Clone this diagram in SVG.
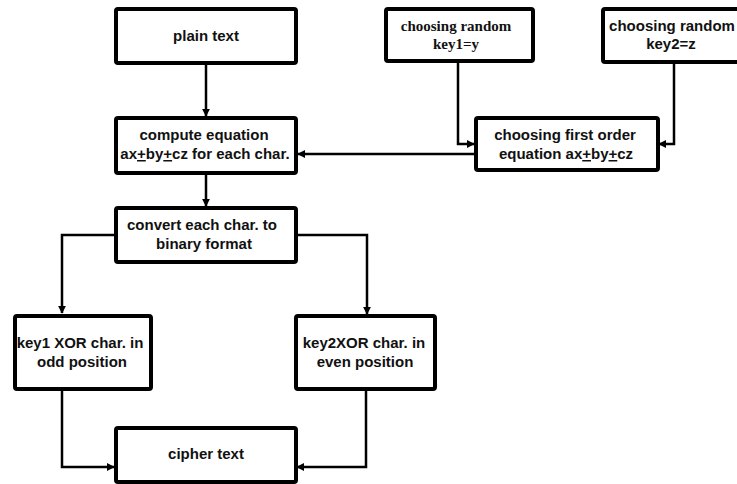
<svg xmlns="http://www.w3.org/2000/svg" width="737" height="484" viewBox="0 0 737 484">
<style>
.box{fill:#fff;stroke:#000;stroke-width:4;stroke-linejoin:round}
.t{font-family:"Liberation Sans",Arial,sans-serif;font-size:15px;font-weight:bold;fill:#111;text-anchor:middle}
.s{font-family:"Liberation Serif","Times New Roman",serif;font-size:15px;font-weight:bold;fill:#111;text-anchor:middle}
.c{fill:none;stroke:#000;stroke-width:2.5}
</style>
<defs>
<marker id="ah" viewBox="0 0 10 10" refX="9" refY="5" markerWidth="3.2" markerHeight="3.2" orient="auto" markerUnits="strokeWidth">
<path d="M0,0 L10,5 L0,10 z" fill="#000"/>
</marker>
</defs>
<rect width="737" height="484" fill="#fff"/>
<g id="connectors">
<path class="c" d="M206,63 V116" marker-end="url(#ah)"/>
<path class="c" d="M458,61 V144 H474" marker-end="url(#ah)"/>
<path class="c" d="M674,62 V144 H659" marker-end="url(#ah)"/>
<path class="c" d="M475,154 H298" marker-end="url(#ah)"/>
<path class="c" d="M206,173 V206" marker-end="url(#ah)"/>
<path class="c" d="M115,235 H62 V313" marker-end="url(#ah)"/>
<path class="c" d="M296,235 H367 V314" marker-end="url(#ah)"/>
<path class="c" d="M62,389 V467 H114" marker-end="url(#ah)"/>
<path class="c" d="M366,389 V467 H297" marker-end="url(#ah)"/>
</g>
<g id="plain">
<rect class="box" x="116" y="9" width="180" height="54" rx="2"/>
<text class="t" x="206" y="41">plain text</text>
</g>
<g id="compute">
<rect class="box" x="116" y="118" width="180" height="55" rx="2"/>
<text class="t" x="204" y="140">compute equation</text>
<text class="t" x="205" y="159">ax<tspan text-decoration="underline">+</tspan>by<tspan text-decoration="underline">+</tspan>cz for each char.</text>
</g>
<g id="key1">
<rect class="box" x="386" y="9" width="147" height="52" rx="2"/>
<text class="s" x="456" y="31">choosing random</text>
<text class="s" x="456" y="49">key1=y</text>
</g>
<g id="key2">
<rect class="box" x="603" y="9" width="136" height="53" rx="2"/>
<text class="t" x="672" y="31">choosing random</text>
<text class="t" x="671" y="49">key2=z</text>
</g>
<g id="firstorder">
<rect class="box" x="476" y="118" width="182" height="52" rx="2"/>
<text class="t" x="565" y="140">choosing first order</text>
<text class="t" x="566" y="159">equation ax<tspan text-decoration="underline">+</tspan>by<tspan text-decoration="underline">+</tspan>cz</text>
</g>
<g id="convert">
<rect class="box" x="116" y="208" width="180" height="54" rx="2"/>
<text class="t" x="202" y="230">convert each char. to</text>
<text class="t" x="204" y="249">binary format</text>
</g>
<g id="xor1">
<rect class="box" x="15" y="316" width="136" height="73" rx="2"/>
<text class="t" x="80" y="348">key1 XOR char. in</text>
<text class="t" x="82" y="367">odd position</text>
</g>
<g id="xor2">
<rect class="box" x="296" y="316" width="139" height="73" rx="2"/>
<text class="t" x="364" y="348">key2XOR char. in</text>
<text class="t" x="365" y="367">even position</text>
</g>
<g id="cipher">
<rect class="box" x="116" y="428" width="180" height="54" rx="2"/>
<text class="t" x="206" y="459">cipher text</text>
</g>
</svg>
